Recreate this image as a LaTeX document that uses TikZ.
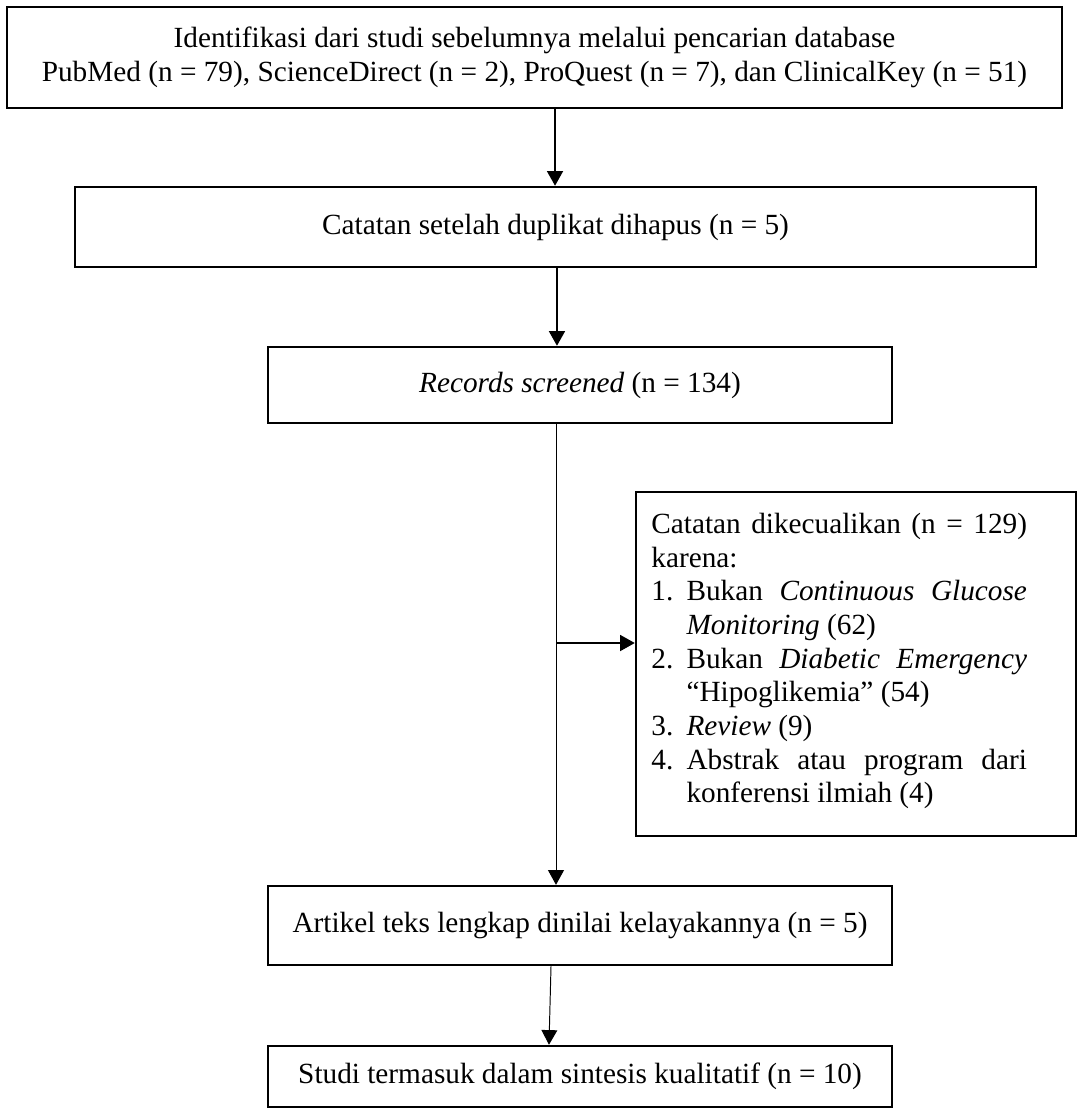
\documentclass[tikz,border=0pt]{standalone}
\usepackage{fontspec}
\setmainfont{Liberation Serif}
\usepackage{enumitem}
\usetikzlibrary{arrows.meta,positioning}

\begin{document}
\begin{tikzpicture}[%
        font=\fontsize{12}{13.8}\selectfont,
        kotak/.style={draw, line width=1pt, inner sep=0pt, align=center},
        panah/.style={->, line width=0.8pt},
        panahtipis/.style={->, line width=0.4pt},
        >={Triangle[length=6pt,width=6.5pt]} % ujung panah
        ]
            \useasboundingbox (0,0) rectangle (15.548,-15.981);

            % Kotak alur
            \node[kotak, minimum width=15.203cm, minimum height=1.455cm] (ident) at (7.702,-0.829)
                {Identifikasi dari studi sebelumnya melalui pencarian database\\
                 PubMed (n = 79), ScienceDirect (n = 2), ProQuest (n = 7), dan ClinicalKey (n = 51)};
            \node[kotak, minimum width=13.848cm, minimum height=1.153cm] (duplikat) at (8.005,-3.271)
                {Catatan setelah duplikat dihapus (n = 5)};
            \node[kotak, minimum width=8.992cm, minimum height=1.095cm] (skrining) at (8.358,-5.548)
                {\textit{Records screened} (n = 134)};
            \node[kotak, minimum width=8.992cm, minimum height=1.138cm] (teks) at (8.358,-13.337)
                {Artikel teks lengkap dinilai kelayakannya (n = 5)};
            \node[kotak, minimum width=8.992cm, minimum height=0.879cm] (sintesis) at (8.358,-15.512)
                {Studi termasuk dalam sintesis kualitatif (n = 10)};

            % Kotak dikecualikan
            \node[kotak, minimum width=6.340cm, minimum height=4.957cm] (alasan) at (12.335,-9.568) {};
            \node[anchor=north west, text width=154pt, align=justify, inner sep=0pt] (alasanteks)
                at ([xshift=6.6pt,yshift=-9pt]alasan.north west)
                {\hyphenpenalty=10000 \tolerance=9999
                 Catatan dikecualikan (n~=~129) karena:
                 \begin{enumerate}[label=\arabic*., leftmargin=14.4pt, labelwidth=14.4pt,
                                   labelsep=0pt, align=left, nosep]
                     \item Bukan \textit{Continuous Glucose Monitoring} (62)
                     \item Bukan \textit{Diabetic Emergency} ``Hipoglikemia'' (54)
                     \item \textit{Review} (9)
                     \item Abstrak atau program dari konferensi ilmiah (4)
                 \end{enumerate}};

            % Titik bantu panah
            \coordinate (x1) at (7.998,0);
            \coordinate (x2) at (8.026,0);
            \coordinate (x3) at (8.012,0);
            \coordinate (x5) at (7.940,0);
            \coordinate (x6) at (7.911,0);
            \coordinate (cabang) at (8.012,-9.266);

            % Panah
            \draw[panah]     (ident.south -| x1) -- (duplikat.north -| x1);
            \draw[panah]     (duplikat.south -| x2) -- (skrining.north -| x2);
            \draw[panahtipis] (skrining.south -| x3) -- (teks.north -| x3);
            \draw[panah]     (cabang) -- (cabang -| alasan.west);
            \draw[panahtipis] (teks.south -| x5) -- (sintesis.north -| x6);

        \end{tikzpicture}
\end{document}
